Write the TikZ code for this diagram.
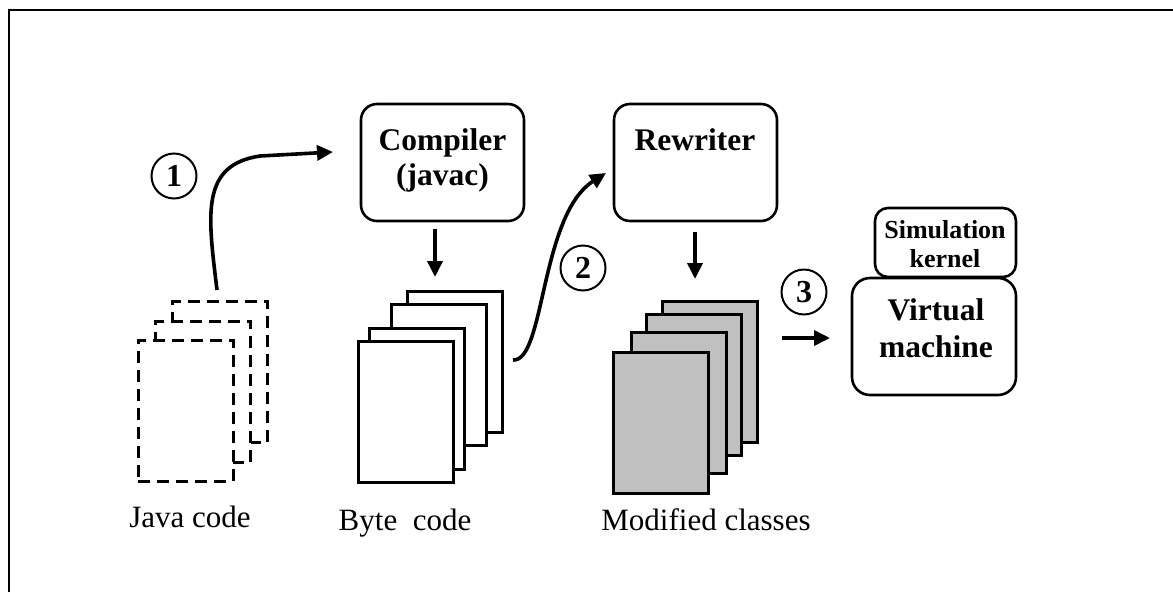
\documentclass[tikz,border=0pt]{standalone}
\usepackage{fontspec}
\setmainfont{Liberation Serif}
\usetikzlibrary{arrows.meta}
\begin{document}
\begin{tikzpicture}[x=1pt,y=-1pt,
  box/.style={draw,line width=2.6pt,rounded corners=16pt,inner sep=0pt,outer sep=0pt},
  page/.style={draw,line width=3pt,fill=white,minimum width=95pt,minimum height=141pt,inner sep=0pt,outer sep=0pt},
  dpage/.style={page,dash pattern=on 12pt off 7pt},
  gpage/.style={page,fill=pagegrey},
  num/.style={draw,circle,line width=2pt,minimum size=45pt,inner sep=0pt,font=\fontsize{32}{32}\selectfont\bfseries},
  lbl/.style={anchor=base,inner sep=0pt,font=\fontsize{31}{31}\selectfont},
  blbl/.style={anchor=base,inner sep=0pt,font=\fontsize{31.5}{31.5}\selectfont\bfseries},
  slbl/.style={anchor=base,inner sep=0pt,font=\fontsize{26}{26}\selectfont\bfseries},
  arr/.style={line width=3.6pt,-{Triangle[length=16pt,width=15pt]}},
]
\definecolor{pagegrey}{HTML}{C0C0C0}
\useasboundingbox (0,0) rectangle (1173,592);
% frame
\draw[line width=2.6pt] (9,592) -- (9,10) -- (1173,10);

% boxes
\node[box,minimum width=163pt,minimum height=117pt] (comp) at (442.5,162.5) {};
\node[box,minimum width=163pt,minimum height=117pt] (rew) at (695.5,162.5) {};
\node[box,rounded corners=13pt,minimum width=141pt,minimum height=69pt] (sim) at (945.5,242.5) {};
\node[box,rounded corners=18pt,minimum width=164pt,minimum height=117pt] (vm) at (934,336.5) {};

\node[blbl] (compt1) at (442.5,150) {Compiler};
\node[blbl] (compt2) at (442.5,185) {(javac)};
\node[blbl] (rewt) at (695,150) {Rewriter};
\node[slbl] (simt1) at (945,238) {Simulation};
\node[slbl] (simt2) at (945,267) {kernel};
\node[blbl] (vmt1) at (936,320) {Virtual};
\node[blbl] (vmt2) at (936,357) {machine};

% Java code pages (dashed)
\node[dpage] (j3) at (220,371.5) {};
\node[dpage] (j2) at (203,391.5) {};
\node[dpage] (j1) at (185.5,410.5) {};
% Byte code pages
\node[page] (b4) at (454.5,362) {};
\node[page] (b3) at (438.5,375) {};
\node[page] (b2) at (416.5,398.5) {};
\node[page] (b1) at (405.5,412) {};
% Modified classes pages
\node[gpage] (m4) at (709.5,371.5) {};
\node[gpage] (m3) at (693.5,384.5) {};
\node[gpage] (m2) at (678.5,402.5) {};
\node[gpage] (m1) at (660.5,422.5) {};

% labels
\node[lbl] (jl) at (190,527) {Java code};
\node[lbl] (bl) at (405,530) {Byte\ \ code};
\node[lbl] (ml) at (706,530) {Modified classes};

% step numbers
\node[num] (n1) at (174,176) {1};
\node[num] (n2) at (583,268) {2};
\node[num] (n3) at (804,292) {3};

% arrows
\coordinate (a1s) at ([xshift=-3pt,yshift=11pt]j3.north);
\coordinate (a1e) at ([xshift=-28pt,yshift=10.5pt]comp.west);
\draw[arr] (a1s) .. controls (208,215) and (200,165) .. (260,156) -- (a1e);

\coordinate (a2s) at ([xshift=11pt,yshift=2pt]b4.east);
\coordinate (a2e) at ([xshift=-8pt,yshift=-10.5pt]rew.west);
\draw[arr] (a2s) .. controls (545,362) and (540,215) .. (a2e);

\draw[arr] ([xshift=-7.5pt,yshift=-8pt]comp.south) -- ([xshift=-7.5pt,yshift=-56pt]comp.south);
\draw[arr] ([xshift=-0.5pt,yshift=-11pt]rew.south) -- ([xshift=-0.5pt,yshift=-58pt]rew.south);
\draw[arr] ([xshift=-70pt,yshift=-1.5pt]vm.west) -- ([xshift=-22pt,yshift=-1.5pt]vm.west);
\end{tikzpicture}
\end{document}
